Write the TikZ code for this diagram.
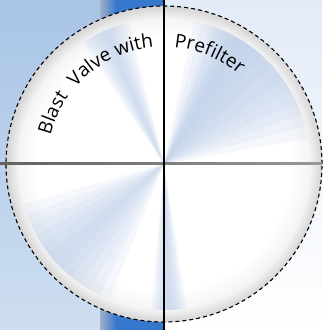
\documentclass[tikz,border=0pt]{standalone}
\usepackage{fontspec}
\newfontfamily\dialfont{Open Sans}
\usetikzlibrary{decorations.text}
\definecolor{skyblue}{RGB}{168,196,230}
\definecolor{paleblue}{RGB}{206,222,241}
\definecolor{bandblue}{RGB}{55,120,205}
\definecolor{bandgray}{RGB}{160,176,200}
\definecolor{mistblue}{RGB}{178,200,232}
\definecolor{frost}{RGB}{226,235,248}
\pgfdeclareradialshading{rimshade}{\pgfpoint{0bp}{0bp}}{color(0bp)=(white); color(20bp)=(white); color(23bp)=(black!4); color(25bp)=(black!17); color(50bp)=(black!17)}
\tikzset{
  wedge/.style={fill=mistblue, opacity=0.13},
  dialtext/.style={decorate, decoration={text along path, text align=left, text={|\dialfont\fontsize{19}{19}\selectfont|#1}}}
}
\begin{document}
\begin{tikzpicture}[x=1pt,y=1pt]
\useasboundingbox (0,0) rectangle (322,330);
\shade[top color=skyblue, bottom color=paleblue] (0,0) rectangle (100,330);
\shade[left color=bandgray, right color=bandblue] (100,0) rectangle (116,330);
\fill[bandblue] (116,0) rectangle (164,330);
\shade[top color=frost, bottom color=white] (164,0) rectangle (322,330);
\coordinate (c) at (164,166);
\shade[shading=rimshade] (c) circle[radius=158];
% soft pinwheel reflections
\foreach \a/\w in {114/10, 40/30, 60/18, 222/26, 272/7} {
  \foreach \k in {1,...,6} {
    \pgfmathsetmacro\lo{\a-\w*\k/6}
    \pgfmathsetmacro\hi{\a+\w*\k/6}
    \fill[wedge] (c) -- ++(\lo:146) arc[start angle=\lo, end angle=\hi, radius=146] -- cycle;
  }
}
\draw[line width=1.1pt, dash pattern=on 4pt off 3pt] (c) circle[radius=158];
\coordinate (west) at (0,166);
\coordinate (east) at (322,166);
\coordinate (north) at (164,330);
\coordinate (south) at (164,0);
\shade[left color=black!62, right color=black!40] (0,165) rectangle (322,167);
\draw[line width=1.1pt] (north) -- (south);
\path[shift={(c)}, dialtext={Blast}] (166:117) arc[start angle=166, end angle=100, radius=117];
\path[shift={(c)}, dialtext={Valve with}] (139:117) arc[start angle=139, end angle=60, radius=117];
\path[shift={(c)}, dialtext={Prefilter}] (85:117) arc[start angle=85, end angle=20, radius=117];
\end{tikzpicture}
\end{document}
